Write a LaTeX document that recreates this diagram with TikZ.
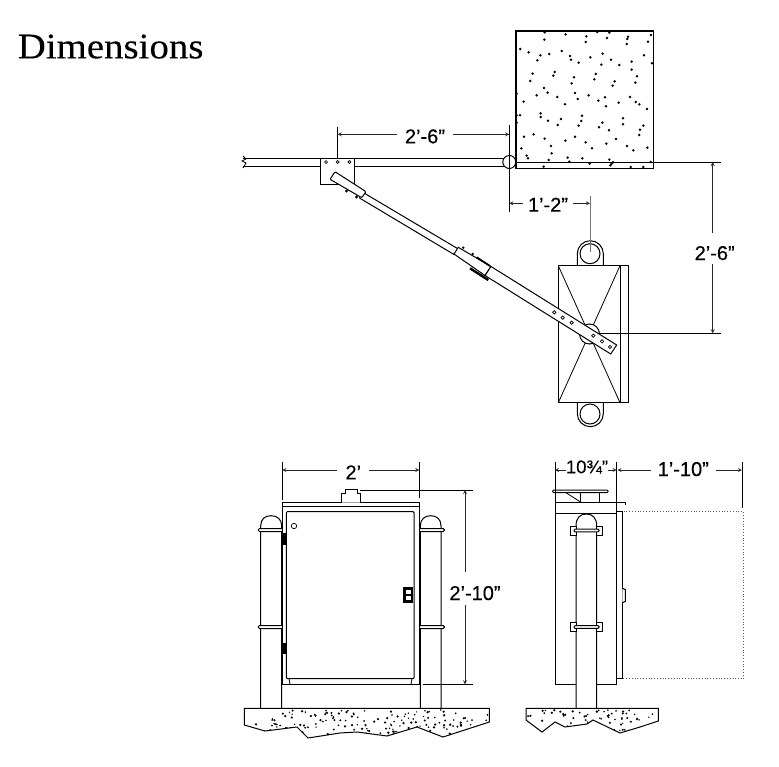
\documentclass[tikz,border=0pt]{standalone}
\usepackage{fontspec}
\setmainfont{Liberation Sans}
\newfontfamily\titlefont[FakeStretch=1.08,FakeBold=0.15]{Liberation Serif}
\newfontfamily\dimfont[FakeBold=0.25]{Liberation Sans}
\usetikzlibrary{arrows}
\tikzstyle{outline} = [line width=1pt,black,fill=white]
\tikzstyle{thinline} = [line width=0.8pt,black]
\tikzstyle{greyline} = [line width=0.8pt,black!55]
\tikzstyle{dimarrow} = [line width=0.8pt,black!85,->,>=stealth]
\tikzstyle{dimlabel} = [inner xsep=8pt,inner ysep=0pt,text height=18pt,text depth=0pt,font=\dimfont\fontsize{20}{22}\selectfont]
\tikzstyle{hole} = [line width=0.7pt,black,fill=white]
\newcommand{\speckle}[5]{%
  \foreach \i in {1,...,#5} {
    \pgfmathsetmacro{\px}{#1+rnd*#3}
    \pgfmathsetmacro{\py}{#2+rnd*#4}
    \pgfmathsetmacro{\pr}{0.7+rnd*0.6}
    \fill[black] (\px,\py) circle [radius=\pr pt];
  }}
\begin{document}
\begin{tikzpicture}[x=1pt,y=-1pt]
  \useasboundingbox (0,0) rectangle (779,766);
  \pgfmathsetseed{4217}
  \node (title) [anchor=base west,inner sep=0pt,font=\titlefont\fontsize{36}{40}\selectfont] at (17.5,58.3) {Dimensions};

  % concrete block
  \draw [line width=1.3pt] (516,31) rectangle (653.3,168.3);
  \foreach \dx/\dy in {104/22,167/28,229/34,262/21,298/23,354/35,352/42,423/30,103/44,227/51,291/39,414/50,350/57,31/72,56/82,155/78,91/91,118/87,180/93,278/86,402/91,82/106,183/104,206/113,241/97,303/104,365/110,274/119,328/120,426/115,365/134,134/141,130/152,68/146,192/157,257/147,253/163,381/154,61/168,185/175,314/169,308/182,376/173,102/189,113/203,195/204,20/206,80/211,142/216,236/211,285/217,360/216,203/222,265/227,326/233,377/231,388/238,41/230,165/238,288/244,411/252,92/265,92/276,20/271,30/271,216/272,20/293,114/287,153/282,214/288,339/280,277/293,339/298,143/300,206/302,267/307,297/316,400/302,390/314,388/330,71/328,42/335,104/341,195/335,166/347,318/342,227/352,289/356,123/363,246/370,351/363,370/376,412/368,34/370,125/385,50/392,54/400,116/405,173/398,178/410,217/400,298/404,309/412,305/416,301/421,239/416,101/425,362/426,400/426,422/411} {
    \fill (510+\dx/3,25+\dy/3) circle [radius=1.4pt];
  }

  % wall arm
  \draw [outline] (243,158) -- (509,158) -- (509,166) -- (243,166);
  \draw [thinline] (243,156) -- (246,159) -- (242,161) -- (246,163) -- (243,168);
  \draw [thinline] (320,158) rectangle (354,184);
  \fill [white] (320.5,158.5) rectangle (353.5,183.5);
  \draw [line width=1pt] (320,158) -- (354,158);
  \foreach \hx in {326,337.7,349.3} {
    \draw [hole] (\hx,162) circle [radius=1.5pt];
  }
  \draw [outline] (364,193) -- (458.3,249) -- (454,254.5) -- (359.5,198) -- cycle;
  \draw [outline,rounded corners=1pt] (335,171.7) -- (366,191.7) -- (361.7,197.7) -- (330,179.3) -- cycle;
  \fill (346.5,191) circle [radius=1.7pt];
  \fill (356.5,197) circle [radius=1.7pt];

  % hinge post
  \coordinate (hinge) at (509.3,162);
  \draw [outline] (hinge) circle [radius=6.5pt];

  % unit seen from above
  \draw [outline] (590,253.7) circle [radius=10pt];
  \draw [line width=1pt] (577.3,265.7) -- (577.3,253.7) arc [start angle=180,end angle=0,radius=13pt] -- (603.3,265.7);
  \draw [line width=1.5pt] (574,265.7) -- (606,265.7);
  \draw [outline] (590,414) circle [radius=10pt];
  \draw [line width=1pt] (577.3,402.7) -- (577.3,413.7) arc [start angle=180,end angle=360,radius=13pt] -- (603.3,402.7);
  \draw [outline] (558.3,265.7) rectangle (628.7,402.7);
  \draw [line width=1pt] (620,265.7) -- (620,402.7);
  \draw [thinline] (558.3,265.7) -- (620,402.7);
  \draw [thinline] (620,265.7) -- (558.3,402.7);
  \draw [outline] (589.5,334) circle [radius=10pt];

  % swing arm
  \draw [line width=2.4pt] (470,268.3) -- (488.3,280);
  \draw [outline] (458.3,247.3) -- (491,266.5) -- (485,275.5) -- (454,254) -- cycle;
  \draw [line width=1.8pt] (476.7,257.3) -- (490,266);
  \fill (463.3,247.7) circle [radius=1.3pt];
  \fill (472.7,254) circle [radius=1.3pt];
  \draw [outline] (491,266.5) -- (616.7,345) -- (610.7,354) -- (485,275.5) -- cycle;
  \foreach \hx/\hy in {554.3/312.3,562.7/317.7,571.7/322.7,593.3/335.7,602/341.3,610/347} {
    \draw [hole] (\hx,\hy) circle [radius=1.7pt];
  }

  % plan dimensions
  \draw [thinline] (337.7,126.7) -- (337.7,158);
  \draw [thinline] (509.3,125) -- (509.3,211.7);
  \draw [thinline] (516,162) -- (721,162);
  \draw [thinline] (599,333.3) -- (721,333.3);
  \draw [greyline] (590,196) -- (590,252);
  \node (dimrail) [dimlabel] at (425,134.3) {2’-6”};
  \coordinate (railL) at (337.7,134.3);
  \coordinate (railR) at (509.3,134.3);
  \draw [dimarrow] (dimrail) -- (railL);
  \draw [dimarrow] (dimrail) -- (railR);
  \node (dimoff) [dimlabel,inner xsep=4.7pt,text height=16.8pt] at (548,203.3) {1’-2”};
  \coordinate (offL) at (509.3,203.3);
  \coordinate (offR) at (590,203.3);
  \draw [dimarrow] (dimoff) -- (offL);
  \draw [dimarrow] (dimoff) -- (offR);
  \node (dimdrop) [dimlabel,inner xsep=0pt,text height=26.7pt,text depth=3.3pt] at (712.7,248.3) {\hspace*{4pt}2’-6”};
  \coordinate (dropT) at (712.7,162);
  \coordinate (dropB) at (712.7,333.3);
  \draw [dimarrow] (dimdrop) -- (dropT);
  \draw [dimarrow] (dimdrop) -- (dropB);

  % front view
  \draw [outline] (260.7,708.3) -- (260.7,526) .. controls (260.7,519) and (265,515.7) .. (271,515.7) .. controls (277,515.7) and (281.7,519) .. (281.7,526) -- (281.7,708.3);
  \draw [outline] (420.3,708.3) -- (420.3,526) .. controls (420.3,519) and (425,515.7) .. (430.7,515.7) .. controls (436.5,515.7) and (441,519) .. (441,526) -- (441,708.3);
  \foreach \by in {530,627} {
    \draw [outline,rounded corners=1.2pt] (258.3,\by-1.5) rectangle (283,\by+1.5);
    \draw [outline,rounded corners=1.2pt] (419,\by-1.5) rectangle (444.3,\by+1.5);
  }
  \draw [outline] (282.3,506) rectangle (419.3,684.3);
  \draw [outline,rounded corners=1pt] (286.3,511.7) rectangle (414,678.7);
  \draw [thinline] (289,678.7) -- (290,684.3);
  \draw [thinline] (412,678.7) -- (411,684.3);
  \draw [outline] (282.3,502.7) rectangle (419.3,506);
  \draw [outline] (341,502.7) -- (341,493.3) -- (345,493.3) -- (345,489.3) -- (357,489.3) -- (357,493.3) -- (360.3,493.3) -- (360.3,502.7);
  \draw [hole] (294,526) circle [radius=2.7pt];
  \fill (403.3,586.7) rectangle (413,602.7);
  \fill [white] (405.5,589.5) rectangle (410.5,593.5);
  \fill [white] (405.5,596) rectangle (410.5,600);
  \fill (282,532.7) rectangle (286,545);
  \fill (282,642.7) rectangle (286,654);
  \draw [thinline] (282.5,622) -- (282.5,642.7);

  % side view
  \draw [outline] (622.3,678.7) -- (622.3,511.7);
  \draw [dotted,line width=0.8pt,black!65] (622.3,511.7) rectangle (743.3,678.7);
  \draw [outline] (616.7,511.7) rectangle (622.3,678.7);
  \draw [outline] (622.3,588.3) -- (625.3,589.5) -- (625.3,601.5) -- (622.3,602.7);
  \draw [outline] (555,502.3) rectangle (616.7,684.3);
  \draw [thinline] (555,513.3) -- (616.7,513.3);
  \draw [line width=1pt] (616.7,502.3) -- (625,502.3) -- (625,505);
  \draw [outline] (580,492.7) rectangle (599.3,502.3);
  \draw [thinline] (566,492.7) -- (580,501.7);
  \draw [outline,rounded corners=1pt] (552.7,490) rectangle (608,492.7);
  \draw [outline] (576,708.3) -- (576,526) .. controls (576,518) and (580,514) .. (586.3,514) .. controls (592.6,514) and (596.7,518) .. (596.7,526) -- (596.7,708.3);
  \foreach \by in {530.5,627} {
    \draw [outline] (570.3,\by-4.5) rectangle (602.3,\by+4.5);
    \fill [white] (576.5,\by-5) rectangle (596.2,\by+5);
    \draw [line width=1pt] (576,\by-5) -- (576,\by+5);
    \draw [line width=1pt] (596.7,\by-5) -- (596.7,\by+5);
    \draw [outline,rounded corners=1pt] (574,\by-1.3) rectangle (599,\by+1.3);
  }

  % footings
  \draw [outline] (244.3,708.3) -- (489.3,708.3) -- (489.3,722) -- (477,726) -- (443,737) -- (417,727) -- (387,736) -- (357,732) -- (340,733) -- (308,738) -- (297,727) -- (265,731) -- (244.3,725) -- cycle;
  \begin{scope}
    \clip (244.3,708.3) -- (489.3,708.3) -- (489.3,722) -- (477,726) -- (443,737) -- (417,727) -- (387,736) -- (357,732) -- (340,733) -- (308,738) -- (297,727) -- (265,731) -- (244.3,725) -- cycle;
    \speckle{246}{710}{242}{27}{170}
  \end{scope}
  \draw [outline] (526,708.3) -- (658.3,708.3) -- (658.3,721) -- (640,727) -- (620,733) -- (593,720) -- (587,724) -- (565,727) -- (555,722) -- (542,732) -- (526,720) -- cycle;
  \begin{scope}
    \clip (526,708.3) -- (658.3,708.3) -- (658.3,721) -- (640,727) -- (620,733) -- (593,720) -- (587,724) -- (565,727) -- (555,722) -- (542,732) -- (526,720) -- cycle;
    \speckle{528}{710}{129}{22}{70}
  \end{scope}

  % elevation dimensions
  \draw [thinline] (282.3,461.7) -- (282.3,500);
  \draw [thinline] (419.3,461.7) -- (419.3,498);
  \node (dimwide) [dimlabel,text height=18.6pt] at (353.3,470) {2’};
  \coordinate (wideL) at (282.3,470);
  \coordinate (wideR) at (419.3,470);
  \draw [dimarrow] (dimwide) -- (wideL);
  \draw [dimarrow] (dimwide) -- (wideR);
  \draw [thinline] (360,490) -- (472.7,490);
  \draw [thinline] (422.7,684.3) -- (472.7,684.3);
  \node (dimtall) [dimlabel,inner xsep=0pt,text height=28.3pt,text depth=5pt] at (465,588.35) {\hspace*{20pt}2’-10”};
  \coordinate (tallT) at (465,490);
  \coordinate (tallB) at (465,684.3);
  \draw [dimarrow] (dimtall) -- (tallT);
  \draw [dimarrow] (dimtall) -- (tallB);

  \draw [thinline] (555,462) -- (555,502);
  \draw [thinline] (616.7,462) -- (616.7,502);
  \draw [thinline] (742,462) -- (742,508);
  \node (dimdeep) [dimlabel,inner xsep=0pt,text height=6.6pt,font=\dimfont\fontsize{18.5}{20}\selectfont] at (587,470) {10¾”};
  \coordinate (deepL) at (555,470);
  \coordinate (deepR) at (616.7,470);
  \draw [dimarrow] (dimdeep) -- (deepL);
  \draw [dimarrow] (dimdeep) -- (deepR);
  \node (dimdoor) [dimlabel,inner xsep=7pt,text height=12pt] at (683.3,470) {1’-10”};
  \coordinate (doorL) at (617.5,470);
  \coordinate (doorR) at (742,470);
  \draw [dimarrow] (dimdoor) -- (doorL);
  \draw [dimarrow] (dimdoor) -- (doorR);
\end{tikzpicture}
\end{document}
